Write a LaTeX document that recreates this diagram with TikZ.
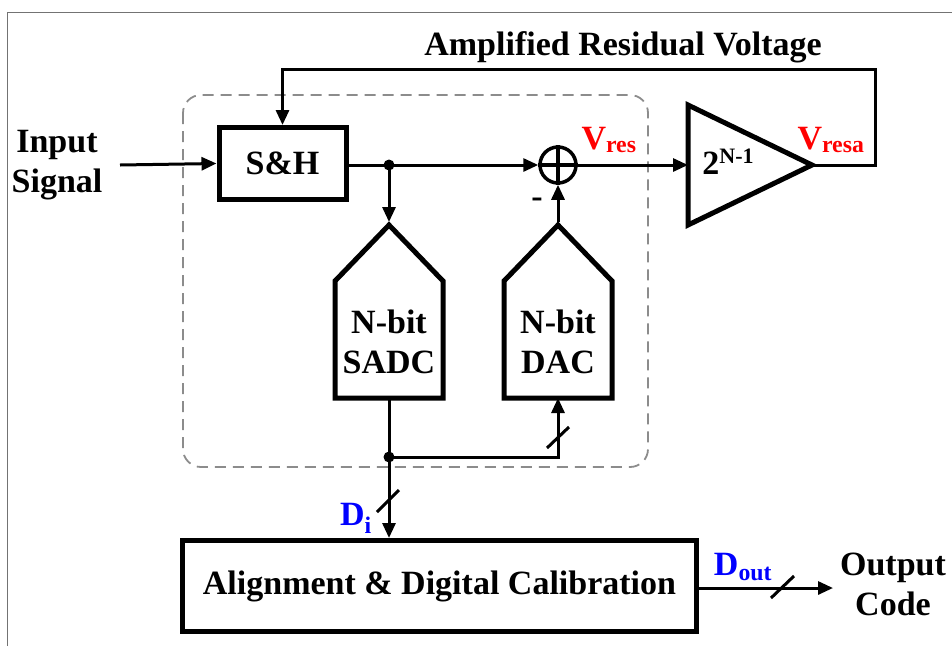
\documentclass[tikz,border=0pt]{standalone}
\usepackage{fontspec}
\setmainfont{Liberation Serif}[BoldFont={Liberation Serif Bold}]
\usetikzlibrary{arrows.meta}
\begin{document}
\begin{tikzpicture}[x=1pt,y=-1pt,
  conn/.style={line width=3pt},
  arr/.style={conn,-{Triangle[length=15pt,width=13pt]}},
  blk/.style={draw,line width=5pt,line join=miter},
  txt/.style={font=\fontsize{34}{40}\selectfont\bfseries,align=center,inner sep=0pt},
  sub/.style={font=\fontsize{34}{40}\selectfont\bfseries,inner sep=0pt},
  dot/.style={circle,fill,inner sep=0pt,minimum size=11pt},
  slash/.style={line width=3pt},
]
\useasboundingbox (0,0) rectangle (952,646);
% outer frame lines
\draw[line width=1pt,draw=black!55] (7,646) -- (7,12) -- (952,12);
% dashed group
\draw[line width=1.8pt,draw=black!45,dash pattern=on 11pt off 7pt,rounded corners=18pt] (183,95) rectangle (648,467);

% blocks
\node[blk,minimum width=127pt,minimum height=72pt,txt] (sh) at (282.5,163.5) {S\&H};
\node[draw,circle,line width=3.5pt,minimum size=36pt,inner sep=0pt] (sum) at (558,165) {};
\draw[line width=3.5pt] (sum.north) -- (sum.south) (sum.west) -- (sum.east);

% amplifier
\coordinate (ampin) at (688,165);
\coordinate (amptip) at (812,165);
\draw[line width=5pt,line join=miter] (688,105) -- (amptip) -- (688,225) -- cycle;
\node[txt] (gain) at (728,162) {2\raisebox{11pt}{\fontsize{22}{22}\selectfont N-1}};

% SADC
\coordinate (sadctop) at (389,222);
\coordinate (sadcbot) at (389,398);
\draw[line width=5pt,line join=miter] (335,398) -- (335,281) -- (389,225) -- (443,281) -- (443,398) -- cycle;
\node[txt] (sadc) at (389,342) {N-bit\\SADC};

% DAC
\coordinate (dactop) at (558,222);
\coordinate (dacbot) at (558,398);
\draw[line width=5pt,line join=miter] (504,398) -- (504,281) -- (558,225) -- (612,281) -- (612,398) -- cycle;
\node[txt] (dac) at (558,342) {N-bit\\DAC};

% alignment
\node[blk,minimum width=514pt,minimum height=91pt,txt] (align) at (439.5,586) {Alignment \& Digital Calibration};

% labels
\node[txt] (inp) at (57,165) {Input\\Signal};
\node[txt] (title) at (623,47) {Amplified Residual Voltage};
\node[sub,text=red] (vres) at (609,140) {V\textsubscript{res}};
\node[sub,text=red] (vresa) at (831,140) {V\textsubscript{resa}};
\node[sub,text=blue] (di) at (356,518) {D\textsubscript{i}};
\node[sub,text=blue] (dout) at (743,567) {D\textsubscript{out}};
\node[txt] (outc) at (893,584) {Output\\Code};
\node[txt] (minus) at (537,203) {-};

% coordinates
\coordinate (in) at (120,165);
\coordinate (fb) at (875,69);
\coordinate (d1) at (389,165);
\coordinate (d2) at (389,457);
\coordinate (dacc) at (558,457);
\coordinate (oc) at (833,588);

% connectors
\draw[arr] (in) -- (sh.west);
\draw[arr] (amptip) -| (fb) -| (sh.north);
\draw[arr] (sh.east |- d1) -- (sum.west);
\draw[arr] (d1) -- (sadctop);
\draw[arr] (dactop) -- (sum.south);
\draw[arr] (sum.east) -- (ampin);
\draw[conn] (sadcbot) -- (d2);
\draw[arr] (d2) -- (dacc) -- (dacbot);
\draw[arr] (d2) -- (align.north -| d2);
\draw[arr] (align.east |- oc) -- (oc);
\node[dot] at (d1) {};
\node[dot] at (d2) {};

% bus slashes
\draw[slash] (547,448) -- (569,427);
\draw[slash] (377,512) -- (399,490);
\draw[slash] (771,598) -- (794,576);
\end{tikzpicture}
\end{document}
